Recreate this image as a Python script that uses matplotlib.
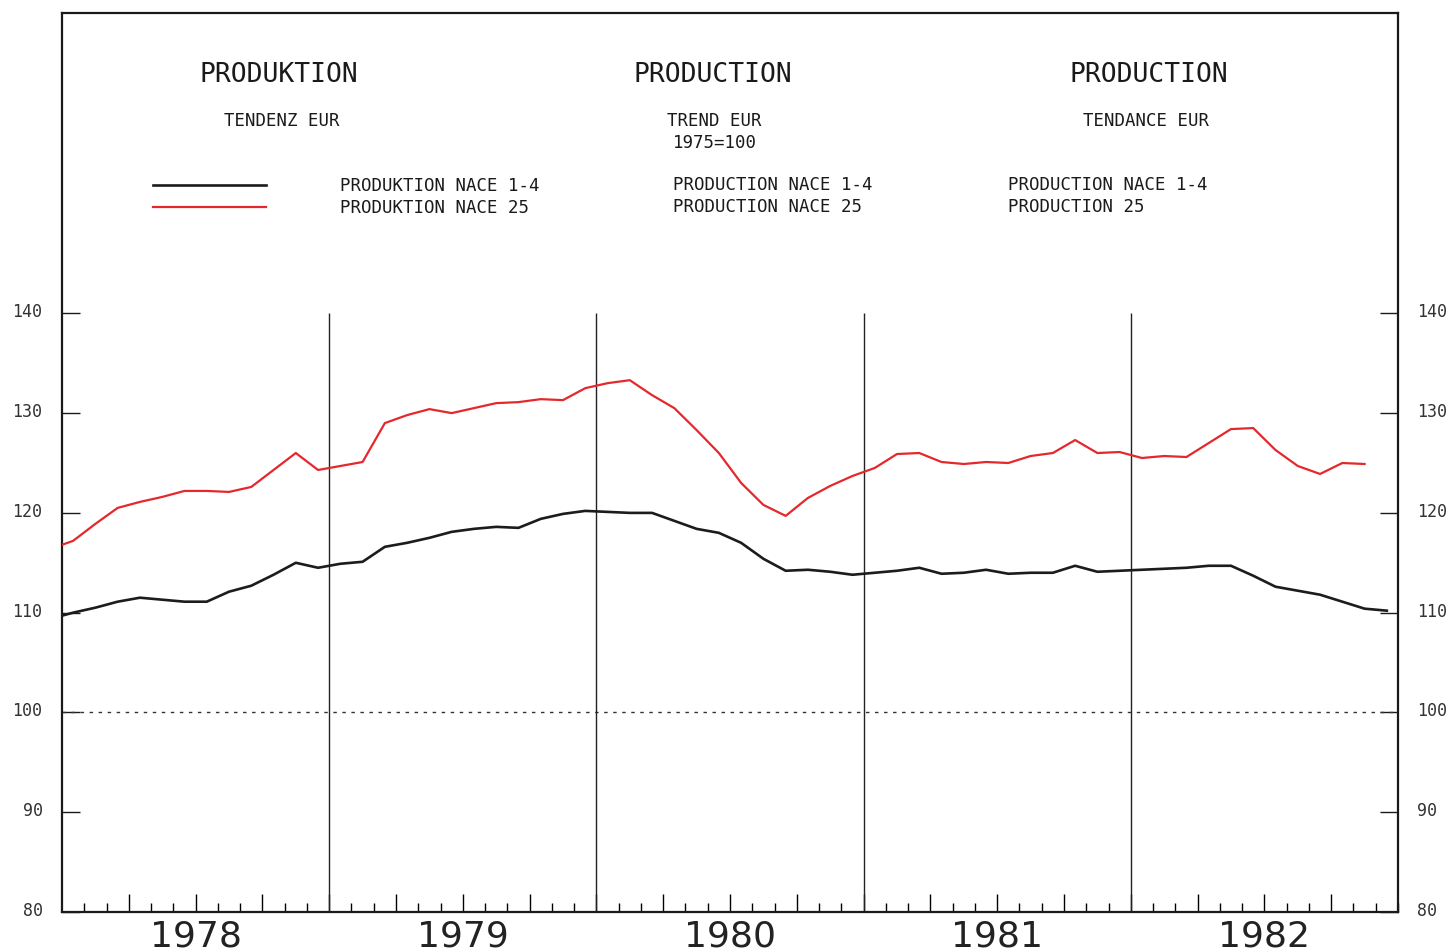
import numpy as np
import matplotlib.pyplot as plt
from matplotlib.lines import Line2D

# monthly trend values, index 1975=100 ; first value is Dec 1977 (runs off the left edge)
nace_1_4 = [109.4,
            110.0, 110.5, 111.1, 111.5, 111.3, 111.1, 111.1, 112.1, 112.7, 113.8, 115.0, 114.5,
            114.9, 115.1, 116.6, 117.0, 117.5, 118.1, 118.4, 118.6, 118.5, 119.4, 119.9, 120.2,
            120.1, 120.0, 120.0, 119.2, 118.4, 118.0, 117.0, 115.4, 114.2, 114.3, 114.1, 113.8,
            114.0, 114.2, 114.5, 113.9, 114.0, 114.3, 113.9, 114.0, 114.0, 114.7, 114.1, 114.2,
            114.3, 114.4, 114.5, 114.7, 114.7, 113.7, 112.6, 112.2, 111.8, 111.1, 110.4, 110.2]
nace_25 = [116.4,
           117.2, 118.9, 120.5, 121.1, 121.6, 122.2, 122.2, 122.1, 122.6, 124.3, 126.0, 124.3,
           124.7, 125.1, 129.0, 129.8, 130.4, 130.0, 130.5, 131.0, 131.1, 131.4, 131.3, 132.5,
           133.0, 133.3, 131.8, 130.5, 128.3, 126.0, 123.0, 120.8, 119.7, 121.5, 122.7, 123.7,
           124.5, 125.9, 126.0, 125.1, 124.9, 125.1, 125.0, 125.7, 126.0, 127.3, 126.0, 126.1,
           125.5, 125.7, 125.6, 127.0, 128.4, 128.5, 126.3, 124.7, 123.9, 125.0, 124.9]
years = [1978, 1979, 1980, 1981, 1982]
yticks = [80, 90, 100, 110, 120, 130, 140]

mono = 'DejaVu Sans Mono'
plt.rcParams['font.family'] = mono

# month midpoints, starting with Dec 1977
t1 = 1978 + (np.arange(len(nace_1_4)) - 0.5) / 12.0
t2 = 1978 + (np.arange(len(nace_25)) - 0.5) / 12.0

fig = plt.figure(figsize=(14.53, 9.52), dpi=100)
W, H = 1453.0, 952.0
ax = fig.add_axes([62 / W, 40 / H, 1336 / W, 899 / H])

ax.plot(t1, nace_1_4, color='#1c1c1c', lw=1.9, zorder=3)
ax.plot(t2, nace_25, color='#e4282c', lw=1.6, zorder=3)

ax.set_xlim(1978, 1983)
ax.set_ylim(80, 170.1)

# reference line and year separators
ax.axhline(100, color='#333333', lw=1.0, ls=(0, (2.5, 4)))
ax.vlines(years[1:], 80, 140, color='#222222', lw=1.0)

for s in ax.spines.values():
    s.set_linewidth(1.6)
    s.set_color('#1a1a1a')

ax.set_yticks(yticks)
ax.set_yticklabels([str(v) for v in yticks])
ax.tick_params(axis='y', direction='in', length=13, width=1.0, labelsize=12,
               left=True, right=True, labelleft=True, labelright=True, pad=14, colors='#1a1a1a')
for lab in ax.get_yticklabels() + ax.yaxis.get_ticklabels(which='both'):
    lab.set_color('#333333')
for lab in ax.yaxis.get_majorticklabels():
    lab.set_y(lab.get_position()[1])
# nudge the numbers slightly above their ticks, as in the original
import matplotlib.transforms as mtransforms
off = mtransforms.ScaledTranslation(0, 3 / 100, fig.dpi_scale_trans)
for tk in ax.yaxis.get_major_ticks():
    tk.label1.set_transform(tk.label1.get_transform() + off)
    tk.label2.set_transform(tk.label2.get_transform() + off)

ax.set_xticks(np.arange(1978.25, 1983, 0.25))
ax.set_xticks(np.arange(1978 + 1 / 12, 1983, 1 / 12), minor=True)
ax.tick_params(axis='x', which='major', direction='in', length=13, width=1.0, labelbottom=False)
ax.tick_params(axis='x', which='minor', direction='in', length=6.5, width=1.0)

for y in years:
    ax.text(y + 0.5, -0.027, str(y), transform=ax.get_xaxis_transform(), ha='center', va='center',
            fontsize=26, family='DejaVu Sans', color='#222222', clip_on=False)

# header texts
def ftext(px, py, s, size, ha='center'):
    fig.text(px / W, 1 - py / H, s, ha=ha, va='center', fontsize=size, color='#1a1a1a', family=mono)

ftext(279, 75, 'PRODUKTION', 19)
ftext(713, 75, 'PRODUCTION', 19)
ftext(1149, 75, 'PRODUCTION', 19)
ftext(282, 121, 'TENDENZ EUR', 12.5)
ftext(667, 121, 'TREND EUR', 12.5, ha='left')
ftext(673, 143, '1975=100', 12.5, ha='left')
ftext(1146, 121, 'TENDANCE EUR', 12.5)

handles = [Line2D([], [], color='#1c1c1c', lw=1.9), Line2D([], [], color='#e4282c', lw=1.6)]
leg = fig.legend(handles, ['PRODUKTION NACE 1-4', 'PRODUKTION NACE 25'], loc='upper left',
                 bbox_to_anchor=(153 / W, 1 - 177 / H), frameon=False, fontsize=12.5,
                 handlelength=6.5, handletextpad=4.3, labelspacing=0.25, borderpad=0, borderaxespad=0)
for txt in leg.get_texts():
    txt.set_color('#1a1a1a')
ftext(673, 185, 'PRODUCTION NACE 1-4', 12.5, ha='left')
ftext(673, 207, 'PRODUCTION NACE 25', 12.5, ha='left')
ftext(1008, 185, 'PRODUCTION NACE 1-4', 12.5, ha='left')
ftext(1008, 207, 'PRODUCTION 25', 12.5, ha='left')

fig.savefig('out.png', dpi=100, facecolor='white')
